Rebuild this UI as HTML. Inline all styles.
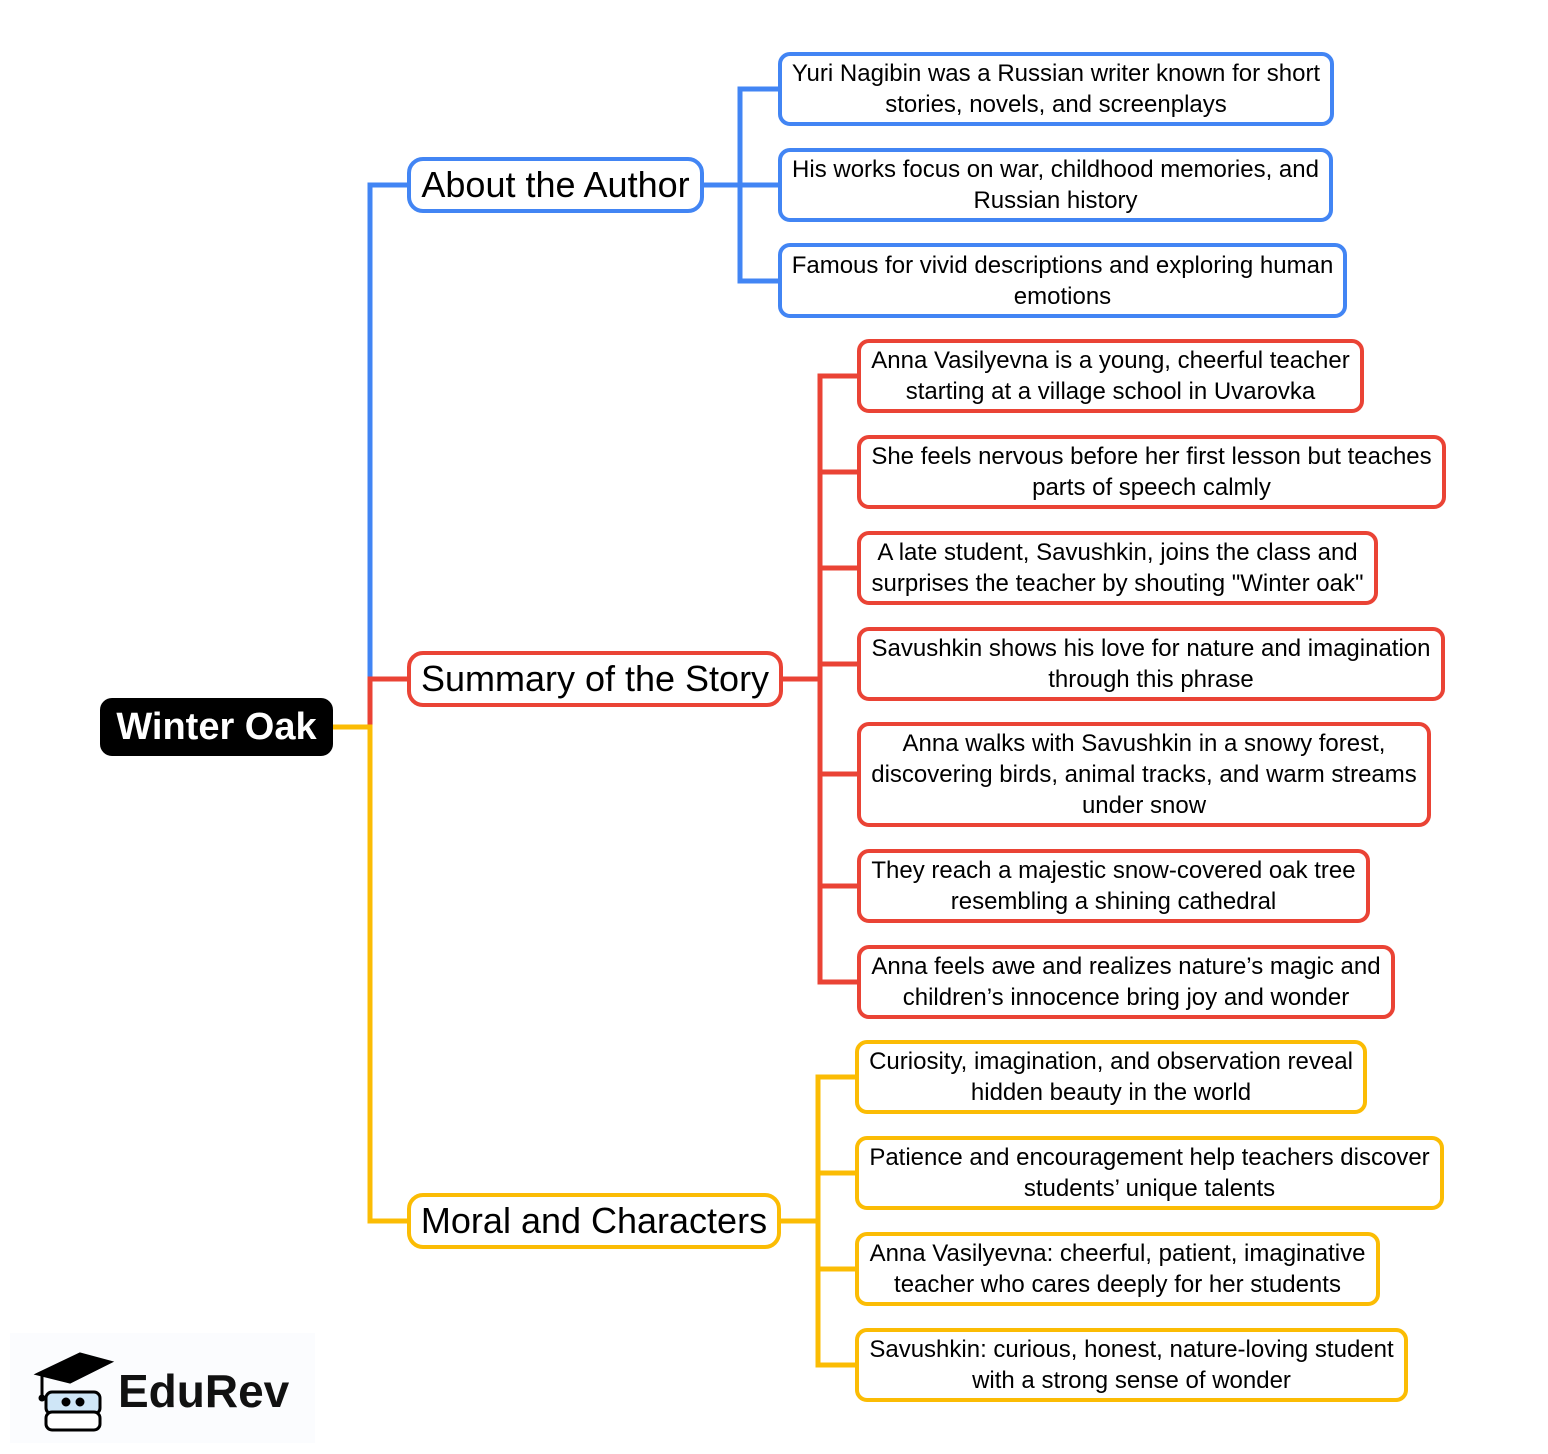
<!DOCTYPE html>
<html><head><meta charset="utf-8"><style>
body{margin:0;width:1548px;height:1454px;background:#fff;position:relative;font-family:"Liberation Sans",sans-serif;overflow:hidden}
.b{position:absolute;box-sizing:border-box;border:4px solid;border-radius:12px;background:#fff;display:flex;align-items:center;justify-content:center;text-align:center;color:#000;white-space:nowrap}
.l{font-size:24px;line-height:31px}
.m{font-size:36px;border-radius:16px}
.B{border-color:#4285f4}.R{border-color:#ea4335}.Y{border-color:#fbbc04}
svg{position:absolute;left:0;top:0}
</style></head><body>
<svg width="1548" height="1454" fill="none" stroke-width="5">
<g stroke="#4285f4"><path d="M407 185H370V680"/><path d="M704 185H740M778 89H740V281H778M740 185H778"/></g>
<g stroke="#ea4335"><path d="M407 679H370V727"/><path d="M783 679H820M857 376H820V982H857M820 472H857M820 568H857M820 664H857M820 774H857M820 886H857"/></g>
<g stroke="#fbbc04"><path d="M333 727H370V1221H407"/><path d="M781 1221H818M855 1077H818V1365H855M818 1173H855M818 1269H855"/></g>
</svg>
<div class="b" style="left:100px;top:698px;width:233px;height:58px;background:#000;border-color:#000;color:#fff;font-size:38px;font-weight:bold">Winter Oak</div>
<div class="b m B" style="left:407px;top:157px;width:297px;height:56px">About the Author</div>
<div class="b m R" style="left:407px;top:651px;width:376px;height:56px">Summary of the Story</div>
<div class="b m Y" style="left:407px;top:1193px;width:374px;height:56px">Moral and Characters</div>
<div class="b l B" style="left:778px;top:52px;width:556px;height:74px">Yuri Nagibin was a Russian writer known for short<br>stories, novels, and screenplays</div>
<div class="b l B" style="left:778px;top:148px;width:555px;height:74px">His works focus on war, childhood memories, and<br>Russian history</div>
<div class="b l B" style="left:778px;top:243px;width:569px;height:75px">Famous for vivid descriptions and exploring human<br>emotions</div>
<div class="b l R" style="left:857px;top:339px;width:507px;height:74px">Anna Vasilyevna is a young, cheerful teacher<br>starting at a village school in Uvarovka</div>
<div class="b l R" style="left:857px;top:435px;width:589px;height:74px">She feels nervous before her first lesson but teaches<br>parts of speech calmly</div>
<div class="b l R" style="left:857px;top:531px;width:521px;height:74px">A late student, Savushkin, joins the class and<br>surprises the teacher by shouting "Winter oak"</div>
<div class="b l R" style="left:857px;top:627px;width:588px;height:74px">Savushkin shows his love for nature and imagination<br>through this phrase</div>
<div class="b l R" style="left:857px;top:722px;width:574px;height:105px">Anna walks with Savushkin in a snowy forest,<br>discovering birds, animal tracks, and warm streams<br>under snow</div>
<div class="b l R" style="left:857px;top:849px;width:513px;height:74px">They reach a majestic snow-covered oak tree<br>resembling a shining cathedral</div>
<div class="b l R" style="left:857px;top:945px;width:538px;height:74px">Anna feels awe and realizes nature’s magic and<br>children’s innocence bring joy and wonder</div>
<div class="b l Y" style="left:855px;top:1040px;width:512px;height:74px">Curiosity, imagination, and observation reveal<br>hidden beauty in the world</div>
<div class="b l Y" style="left:855px;top:1136px;width:589px;height:74px">Patience and encouragement help teachers discover<br>students’ unique talents</div>
<div class="b l Y" style="left:855px;top:1232px;width:525px;height:74px">Anna Vasilyevna: cheerful, patient, imaginative<br>teacher who cares deeply for her students</div>
<div class="b l Y" style="left:855px;top:1328px;width:553px;height:74px">Savushkin: curious, honest, nature-loving student<br>with a strong sense of wonder</div>
<div style="position:absolute;left:10px;top:1333px;width:305px;height:110px;background:#fbfcfe"></div>
<svg width="120" height="80" style="left:30px;top:1352px" stroke="#000" stroke-width="3">
<polygon points="8,22 50,2 80,10 40,30" fill="#000"/>
<path d="M12,22 V44" /><circle cx="12" cy="46" r="2" fill="#000"/>
<rect x="16" y="40" width="54" height="22" rx="6" fill="#cfe6f7"/>
<rect x="16" y="60" width="54" height="18" rx="6" fill="#fff"/>
<circle cx="36" cy="50" r="3" fill="#000"/><circle cx="50" cy="50" r="3" fill="#000"/>
</svg>
<div style="position:absolute;left:118px;top:1364px;font-size:46px;font-weight:bold;color:#111">EduRev</div>
</body></html>
